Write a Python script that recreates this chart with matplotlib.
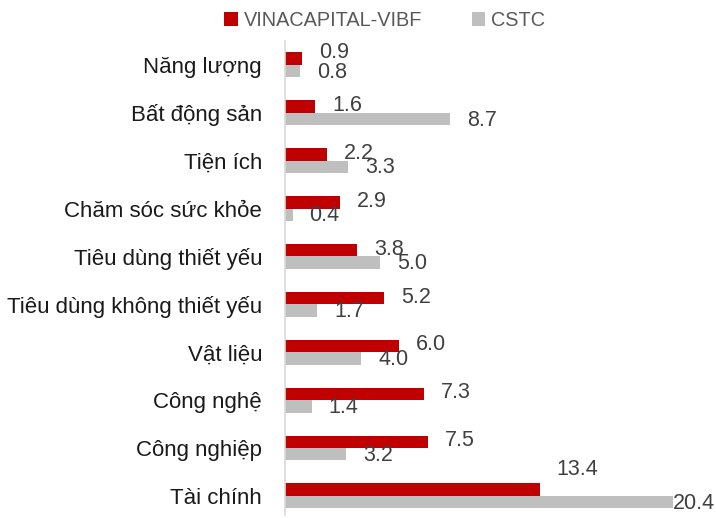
import matplotlib.pyplot as plt
import numpy as np

plt.rcParams["font.family"] = ["Liberation Sans", "DejaVu Sans"]

categories = [
    "Năng lượng",
    "Bất động sản",
    "Tiện ích",
    "Chăm sóc sức khỏe",
    "Tiêu dùng thiết yếu",
    "Tiêu dùng không thiết yếu",
    "Vật liệu",
    "Công nghệ",
    "Công nghiệp",
    "Tài chính",
]
vina_values = [0.9, 1.6, 2.2, 2.9, 3.8, 5.2, 6.0, 7.3, 7.5, 13.4]
cstc_values = [0.8, 8.7, 3.3, 0.4, 5.0, 1.7, 4.0, 1.4, 3.2, 20.4]
series_names = ["VINACAPITAL-VIBF", "CSTC"]

red = "#C00000"
grey = "#BFBFBF"
label_color = "#404040"

# label nudges (pixels) where the original moved a label off its default spot
nudges = {
    ("vina", 0): (0, 5),
    ("vina", 9): (0, 19),
    ("cstc", 9): (-17, 0),
}

fig = plt.figure(figsize=(7.16, 5.18), dpi=100)
ax = fig.add_axes([285 / 716, 1 - 515 / 518, (703.4 - 285) / 716, (515 - 41) / 518])

pos = np.arange(len(categories))
h = 0.26
ax.barh(pos - h / 2, vina_values, height=h, color=red, label=series_names[0])
ax.barh(pos + h / 2, cstc_values, height=h, color=grey, label=series_names[1])

for key, vals, off, base_dy in (("vina", vina_values, -h / 2, 1), ("cstc", cstc_values, h / 2, -1)):
    for i, v in enumerate(vals):
        dx, dy = nudges.get((key, i), (0, 0))
        ax.annotate(
            f"{v:.1f}",
            xy=(v, pos[i] + off),
            xytext=(17 + dx, base_dy + dy),
            textcoords="offset pixels",
            va="center",
            ha="left",
            fontsize=15.5,
            color=label_color,
            annotation_clip=False,
        )

ax.set_xlim(0, 22)
ax.set_ylim(9.4, -0.5)
ax.set_yticks(pos)
ax.set_yticklabels(categories, fontsize=16, color="#1a1a1a")
ax.tick_params(axis="y", length=0, pad=16.5)
ax.set_xticks([])
for side in ("top", "right", "bottom"):
    ax.spines[side].set_visible(False)
ax.spines["left"].set_color("#D9D9D9")
ax.spines["left"].set_linewidth(1.2)

leg = fig.legend(
    loc="center",
    bbox_to_anchor=(0.537, 0.96),
    ncol=2,
    frameon=False,
    fontsize=14.3,
    handlelength=0.7,
    handleheight=0.7,
    handletextpad=0.3,
    columnspacing=2.5,
)
for t in leg.get_texts():
    t.set_color("#595959")

fig.savefig("out.png", dpi=100)
